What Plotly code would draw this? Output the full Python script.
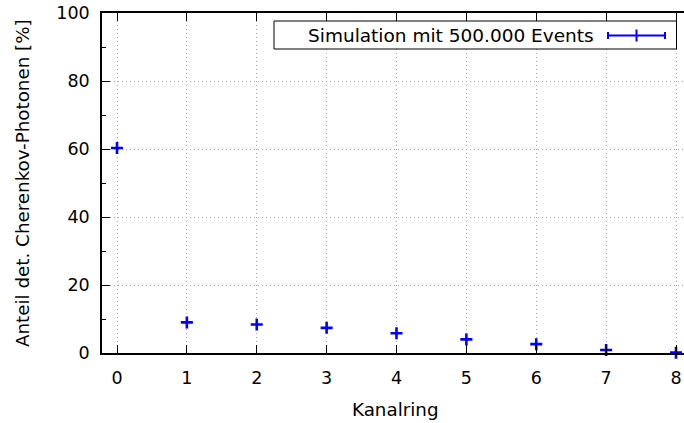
import plotly.graph_objects as go

# Kanalring index and share of detected Cherenkov photons (percent)
kanalring = [0, 1, 2, 3, 4, 5, 6, 7, 8]
anteil = [60.3, 9.0, 8.4, 7.4, 5.8, 4.0, 2.6, 0.9, 0.1]
x_ticks = [0, 1, 2, 3, 4, 5, 6, 7, 8]
y_ticks = [0, 20, 40, 60, 80, 100]
legend_text = "Simulation mit 500.000 Events"
x_title = "Kanalring"
y_title = "Anteil det. Cherenkov-Photonen [%]"

FONT = "DejaVu Sans"
FS = 17.5
TITLE_FS = 18.3
BLUE = "#0000ff"
GRID = "#a8a8a8"

fig = go.Figure()
fig.add_trace(go.Scatter(
    x=kanalring, y=anteil, mode="markers",
    marker=dict(symbol="cross-thin", size=8.6, color=BLUE,
                line=dict(color=BLUE, width=2.6)),
    showlegend=False, cliponaxis=False,
))

W, H = 684, 423
L, R, T, B = 102, 0, 13, 70

def px(xp):
    return (xp - L) / (W - L - R)

def py(yp):
    return 1 - (yp - T) / (H - T - B)

shapes = []
# legend frame
shapes.append(dict(type="rect", xref="paper", yref="paper",
                   x0=px(274), x1=px(676.5), y0=py(49), y1=py(21),
                   line=dict(color="black", width=1), fillcolor="white", layer="above"))
# legend glyph: error bar with caps and a cross in the middle
ly = py(35.5)
shapes.append(dict(type="line", xref="paper", yref="paper",
                   x0=px(608), x1=px(665), y0=ly, y1=ly, line=dict(color=BLUE, width=2)))
for xc in (608, 665):
    shapes.append(dict(type="line", xref="paper", yref="paper",
                       x0=px(xc), x1=px(xc), y0=py(32), y1=py(39), line=dict(color=BLUE, width=2)))
shapes.append(dict(type="line", xref="paper", yref="paper",
                   x0=px(636.5), x1=px(636.5), y0=py(29.5), y1=py(41.5), line=dict(color=BLUE, width=2)))

annotations = [
    dict(text=legend_text, xref="paper", yref="paper",
         x=px(596), y=py(35.5), xanchor="right", yanchor="middle",
         showarrow=False, font=dict(family=FONT, size=18.5, color="black")),
    dict(text=x_title, xref="paper", yref="paper",
         x=px(395), y=py(409), xanchor="center", yanchor="middle",
         showarrow=False, font=dict(family=FONT, size=TITLE_FS, color="black")),
    dict(text=y_title, xref="paper", yref="paper",
         x=px(22), y=py(183), xanchor="center", yanchor="middle", textangle=-90,
         showarrow=False, font=dict(family=FONT, size=TITLE_FS, color="black")),
]

fig.update_layout(
    width=W, height=H,
    margin=dict(l=L, r=R, t=T, b=B, pad=0),
    paper_bgcolor="white", plot_bgcolor="white",
    font=dict(family=FONT, size=FS, color="black"),
    showlegend=False,
    shapes=shapes,
    annotations=annotations,
    xaxis=dict(
        range=[(L - 117) / 69.875, (W - 117) / 69.875],
        tickmode="array", tickvals=x_ticks, ticktext=[str(v) for v in x_ticks],
        ticks="inside", ticklen=8, tickwidth=1.2, tickcolor="black",
        ticklabelstandoff=8, tickfont=dict(size=FS),
        showline=True, linecolor="black", linewidth=1.5, mirror="ticks",
        showgrid=True, gridcolor=GRID, griddash="1px,3px", gridwidth=1,
        zeroline=False,
    ),
    yaxis=dict(
        range=[0, 100],
        tickmode="array", tickvals=y_ticks, ticktext=[str(v) for v in y_ticks],
        ticks="inside", ticklen=8, tickwidth=1.2, tickcolor="black",
        ticklabelstandoff=7, tickfont=dict(size=FS),
        minor=dict(dtick=10, ticks="inside", ticklen=4, tickcolor="black", showgrid=False),
        showline=True, linecolor="black", linewidth=1.5, mirror=False,
        showgrid=True, gridcolor=GRID, griddash="1px,3px", gridwidth=1,
        zeroline=False,
    ),
)

fig.write_html("out.html")
